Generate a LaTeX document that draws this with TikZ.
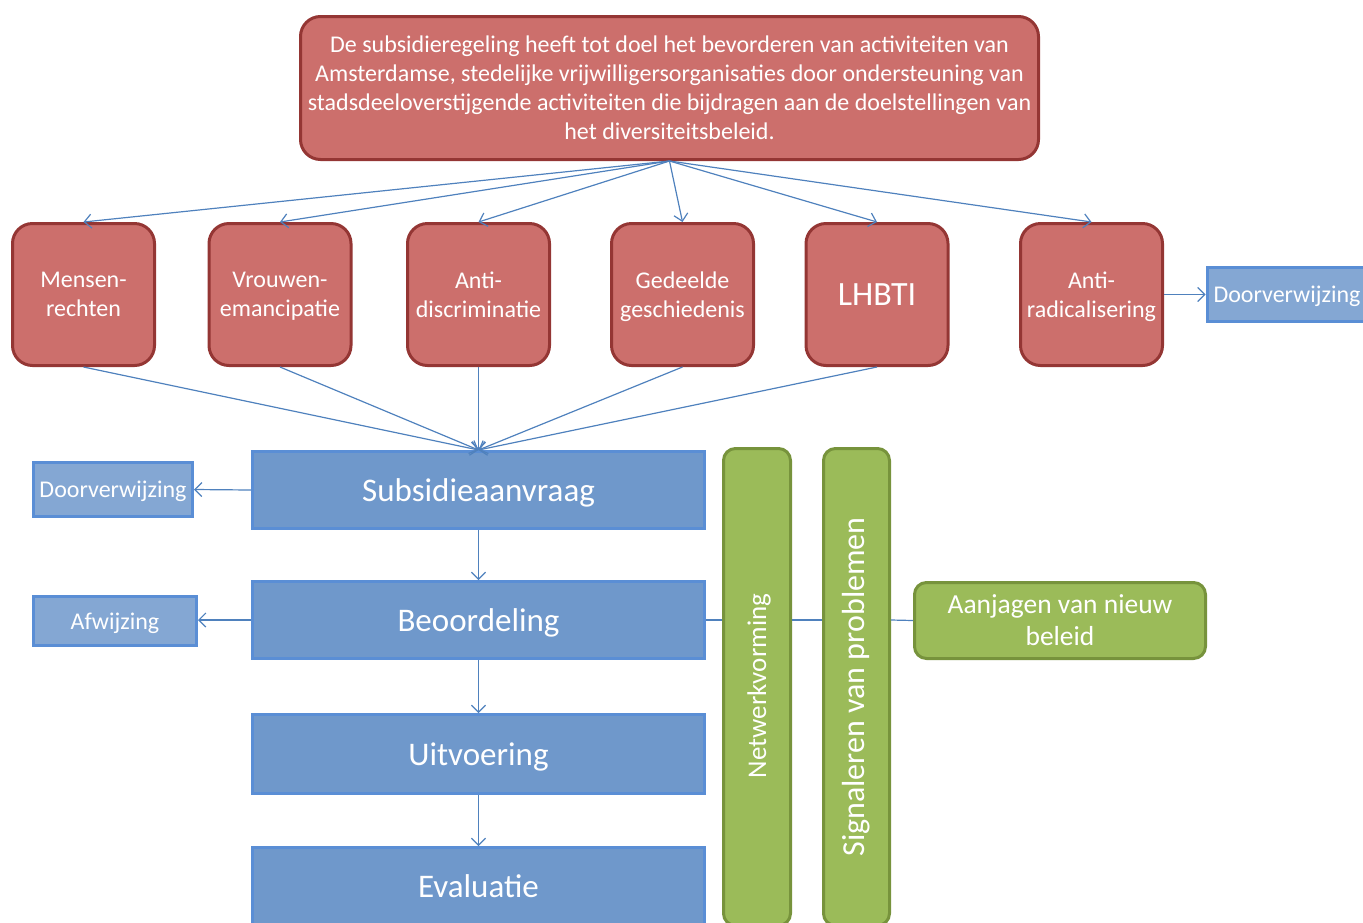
\documentclass[tikz,border=0pt]{standalone}
\usepackage{fontspec}
\setmainfont{Carlito}
\usetikzlibrary{arrows.meta}
\definecolor{redfill}{HTML}{CC6F6C}
\definecolor{redline}{HTML}{943634}
\definecolor{bluefill}{HTML}{6F98CB}
\definecolor{lightblue}{HTML}{84A7D3}
\definecolor{blueline}{HTML}{5A8ED5}
\definecolor{greenfill}{HTML}{9BBB59}
\definecolor{greenline}{HTML}{77933C}
\definecolor{connc}{HTML}{4F81BD}
\begin{document}
\begin{tikzpicture}[x=1pt,y=-1pt,
  redbox/.style={draw=redline, fill=redfill, line width=3pt, rounded corners=20pt,
    text=white, align=center, inner sep=0pt, minimum width=142pt, minimum height=142pt,
    text depth=0pt, font=\fontsize{24}{29}\selectfont},
  bluebox/.style={draw=blueline, fill=bluefill, line width=3pt, text=white, text depth=0pt,
    inner sep=0pt, minimum width=452pt, minimum height=77pt, font=\fontsize{33}{36}\selectfont},
  smallbox/.style={draw=blueline, fill=lightblue, line width=3pt, text=white, text depth=0pt,
    inner sep=0pt, minimum height=54pt, font=\fontsize{24}{28}\selectfont},
  greenbar/.style={draw=greenline, fill=greenfill, line width=3pt, rounded corners=12pt,
    inner sep=0pt},
  vtext/.style={text=white, rotate=90, inner sep=0pt},
  conn/.style={draw=connc, line width=1.2pt, -{Straight Barb[length=7pt,width=14pt]}},
  plain/.style={draw=connc, line width=1.2pt}]
\useasboundingbox (0,0) rectangle (1363,922);
\clip (0,0) rectangle (1363,922);

% top box
\node[redbox, minimum width=738pt, minimum height=143pt, font=\fontsize{24}{29}\selectfont]
  (top) at (669.5,88) {De subsidieregeling heeft tot doel het bevorderen van activiteiten van\\
  Amsterdamse, stedelijke vrijwilligersorganisaties door ondersteuning van\\
  stadsdeeloverstijgende activiteiten die bijdragen aan de doelstellingen van\\
  het diversiteitsbeleid.};

% theme boxes
\node[redbox] (mr) at (83.5,294.5) {Mensen-\\rechten};
\node[redbox] (ve) at (280,294.5) {Vrouwen-\\emancipatie};
\node[redbox] (ad) at (478.5,294.5) {Anti-\\discriminatie};
\node[redbox] (gg) at (682.5,294.5) {Gedeelde\\geschiedenis};
\node[redbox, font=\fontsize{34}{38}\selectfont] (lh) at (877,294.5) {LHBTI};
\node[redbox] (ar) at (1091.5,294.5) {Anti-\\radicalisering};

\node[smallbox, minimum width=160pt] (dvr) at (1287,294.5) {Doorverwijzing};

% process boxes
\node[bluebox] (sa) at (478.5,490) {Subsidieaanvraag};
\node[bluebox] (be) at (478.5,620) {Beoordeling};
\node[bluebox, minimum height=79pt] (ui) at (478.5,754) {Uitvoering};
\node[bluebox] (ev) at (478.5,886) {Evaluatie};

\node[smallbox, minimum width=159pt] (dvl) at (113,489.5) {Doorverwijzing};
\node[smallbox, minimum width=163pt, minimum height=49pt] (af) at (115,621) {Afwijzing};

% green bars
\node[greenbar, minimum width=67pt, minimum height=477pt] (nw) at (757,687) {};
\node[greenbar, minimum width=66pt, minimum height=477pt] (sp) at (856.5,687) {};
\node[vtext, font=\fontsize{27}{30}\selectfont] (nwt) at (759,686) {Netwerkvorming};
\node[vtext, font=\fontsize{32}{34}\selectfont] (spt) at (856,687) {Signaleren van problemen};
\node[greenbar, minimum width=291pt, minimum height=76pt, text=white, align=center,
  font=\fontsize{27.5}{32}\selectfont] (aj) at (1060,620.5) {Aanjagen van nieuw\\beleid};

% connectors top -> themes
\foreach \t in {mr,ve,ad,gg,lh,ar}
  \draw[conn] (top.south) -- (\t.north);
% themes -> subsidieaanvraag
\foreach \t in {mr,ve,ad,gg,lh}
  \draw[conn] (\t.south) -- (sa.north);
\draw[conn] (ar.east) -- (dvr.west);
\draw[conn] (sa.west) -- (dvl.east);
\draw[conn] (be.west) -- (be.west -| af.east);
\draw[conn] (sa.south) -- (be.north);
\draw[conn] (be.south) -- (ui.north);
\draw[conn] (ui.south) -- (ev.north);
\draw[plain] (be.east) -- (be.east -| nw.west);
\draw[plain] (be.east -| nw.east) -- (be.east -| sp.west);
\draw[plain] (be.east -| sp.east) -- (aj.west);
\end{tikzpicture}
\end{document}
